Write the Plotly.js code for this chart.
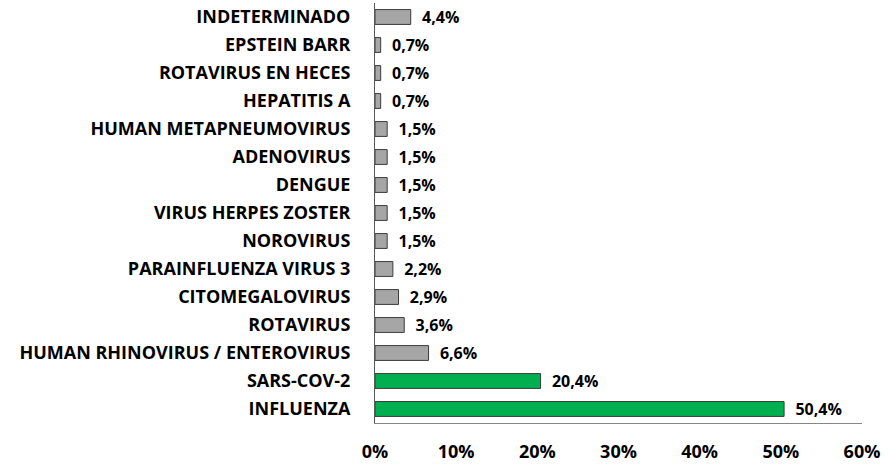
<!DOCTYPE html>
<html>
<head>
<meta charset="utf-8">
<script src="https://cdn.plot.ly/plotly-3.0.1.min.js"></script>
<style>
  body { margin: 0; background: #fff; }
  #chart { width: 894px; height: 470px; }
</style>
</head>
<body>
<div id="chart"></div>
<script>
// bottom to top, as plotly draws category axes
let categories = [
    "INFLUENZA", "SARS-COV-2", "HUMAN RHINOVIRUS / ENTEROVIRUS", "ROTAVIRUS",
    "CITOMEGALOVIRUS", "PARAINFLUENZA VIRUS 3", "NOROVIRUS", "VIRUS HERPES ZOSTER",
    "DENGUE", "ADENOVIRUS", "HUMAN METAPNEUMOVIRUS", "HEPATITIS A",
    "ROTAVIRUS EN HECES", "EPSTEIN BARR", "INDETERMINADO"
];
let percents = [50.4, 20.4, 6.6, 3.6, 2.9, 2.2, 1.5, 1.5, 1.5, 1.5, 1.5, 0.7, 0.7, 0.7, 4.4];
let highlighted = ["INFLUENZA", "SARS-COV-2"];
let tickValues = [0, 10, 20, 30, 40, 50, 60];

function label(v) {
    return "  " + v.toFixed(1).replace(".", ",") + "%";
}

function main() {
    let colors = categories.map(c => highlighted.includes(c) ? "#00b050" : "#a6a6a6");

    let trace = {
        type: "bar",
        orientation: "h",
        x: percents,
        y: categories,
        text: percents.map(label),
        textposition: "outside",
        constraintext: "none",
        cliponaxis: false,
        textfont: { family: "Open Sans", size: 16, color: "#000", weight: "bold" },
        marker: { color: colors, line: { color: "#3a3a3a", width: 1 } },
        hoverinfo: "none"
    };

    let layout = {
        width: 894,
        height: 470,
        margin: { l: 375, r: 32, t: 3, b: 47 },
        paper_bgcolor: "#fff",
        plot_bgcolor: "#fff",
        bargap: 0.47,
        showlegend: false,
        font: { family: "Open Sans", size: 16, color: "#000", weight: "bold" },
        xaxis: {
            range: [0, 60],
            tickvals: tickValues,
            ticktext: tickValues.map(v => v + "%"),
            showgrid: false,
            zeroline: false,
            showline: true,
            linecolor: "#868686",
            linewidth: 1,
            ticks: "",
            ticklabelstandoff: 12,
            tickfont: { family: "Open Sans", size: 18, weight: "bold" },
            fixedrange: true
        },
        yaxis: {
            type: "category",
            showgrid: false,
            zeroline: false,
            showline: true,
            linecolor: "#595959",
            linewidth: 1,
            ticks: "",
            ticklabelstandoff: 20,
            tickfont: { family: "Open Sans", size: 18, weight: "bold" },
            fixedrange: true
        }
    };

    Plotly.newPlot("chart", [trace], layout, { displayModeBar: false, staticPlot: true });
}

main();
</script>
</body>
</html>
